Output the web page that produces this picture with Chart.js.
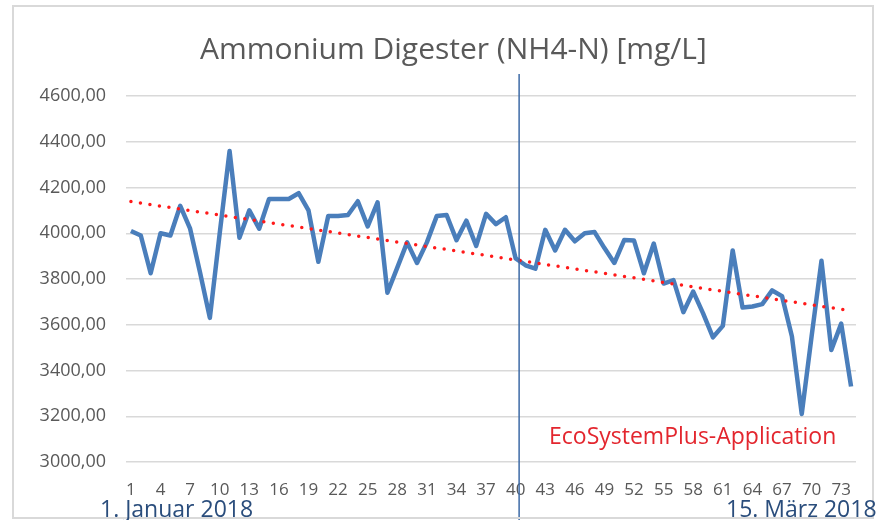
<!DOCTYPE html>
<html>
<head>
<meta charset="utf-8">
<script src="https://cdn.jsdelivr.net/npm/chart.js@4/dist/chart.umd.min.js"></script>
<style>
    html, body { margin: 0; padding: 0; background: #fff; }
    #wrap { position: relative; width: 886px; height: 520px; overflow: hidden; }
    #frame { position: absolute; left: 12px; top: 5px; width: 858px; height: 510px; border: 2px solid #d9d9d9; pointer-events: none; }
    .note { position: absolute; font-family: "Open Sans", sans-serif; white-space: nowrap; line-height: 30px; }
    #chartTitle { left: 200px; top: 30px; width: 504px; text-align: center; font-size: 30px; line-height: 36px; color: #595959; }
    #startDate { left: 100px; top: 493px; font-size: 23px; color: #2a4d7c; }
    #endDate { left: 726px; top: 493px; font-size: 23px; color: #2a4d7c; }
    #appLabel { left: 549px; top: 420px; font-size: 23px; color: #e3262e; }
</style>
</head>
<body>
<div id="wrap">
    <canvas id="ammoniumChart" width="886" height="520"></canvas>
    <div id="frame"></div>
    <div class="note" id="chartTitle">Ammonium Digester (NH4-N) [mg/L]</div>
    <div class="note" id="startDate">1. Januar 2018</div>
    <div class="note" id="endDate">15. März 2018</div>
    <div class="note" id="appLabel">EcoSystemPlus-Application</div>
</div>
<script>
// Tage 1..74 (1. Januar bis 15. März 2018)
const days = Array.from({ length: 74 }, (_, i) => String(i + 1));

// NH4-N im Faulbehälter [mg/L]
const ammonium = [
    4010, 3990, 3825, 4000, 3990, 4120, 4020, 3830, 3630, 4000,
    4360, 3980, 4100, 4020, 4150, 4150, 4150, 4175, 4100, 3875,
    4075, 4075, 4080, 4140, 4030, 4135, 3740, 3850, 3960, 3870,
    3960, 4075, 4080, 3970, 4055, 3945, 4085, 4040, 4070, 3890,
    3860, 3845, 4015, 3925, 4015, 3965, 4000, 4005, 3935, 3870,
    3970, 3968, 3825, 3955, 3780, 3795, 3655, 3745, 3650, 3545,
    3595, 3925, 3675, 3680, 3690, 3750, 3725, 3550, 3210, 3550,
    3880, 3490, 3605, 3330
];

// Beginn der Anwendung (Position auf der Tagesachse, 0-basiert)
const applicationIndex = 39.35;

const yMin = 3000;
const yMax = 4600;
const yStep = 200;

// lineare Trendlinie (kleinste Quadrate) wie in Excel
function linearTrend(values) {
    const n = values.length;
    let sx = 0, sy = 0, sxy = 0, sxx = 0;
    values.forEach((v, i) => {
        sx += i; sy += v; sxy += i * v; sxx += i * i;
    });
    const slope = (n * sxy - sx * sy) / (n * sxx - sx * sx);
    const icpt = (sy - slope * sx) / n;
    return values.map((_, i) => icpt + slope * i);
}

const trend = linearTrend(ammonium);

// senkrechte Linie beim Start der Anwendung
const appLinePlugin = {
    id: 'appLine',
    afterDatasetsDraw(chart) {
        const ctx = chart.ctx;
        const x = chart.scales.x.getPixelForValue(applicationIndex);
        ctx.save();
        ctx.strokeStyle = '#3d6aa6';
        ctx.lineWidth = 1.5;
        ctx.beginPath();
        ctx.moveTo(x, 74);
        ctx.lineTo(x, 520);
        ctx.stroke();
        ctx.restore();
    }
};

const ctx = document.getElementById('ammoniumChart').getContext('2d');

new Chart(ctx, {
    type: 'line',
    data: {
        labels: days,
        datasets: [{
            label: 'Trend',
            data: trend,
            borderColor: '#ff1a1a',
            borderWidth: 3.5,
            borderDash: [0, 9.6],
            borderCapStyle: 'round',
            pointRadius: 0,
            order: 0,
        }, {
            label: 'NH4-N',
            data: ammonium,
            borderColor: '#4a7ebb',
            borderWidth: 4.5,
            borderJoinStyle: 'round',
            pointRadius: 0,
            tension: 0,
            order: 1,
        }],
    },
    options: {
        responsive: false,
        animation: false,
        layout: { padding: { left: 0, right: 30, top: 96, bottom: 0 } },
        plugins: {
            legend: { display: false },
            tooltip: { enabled: false },
            title: { display: false },
        },
        scales: {
            x: {
                offset: true,
                grid: { display: false },
                border: { display: false },
                ticks: {
                    autoSkip: false,
                    maxRotation: 0,
                    padding: 10,
                    color: '#595959',
                    font: { family: 'Open Sans', size: 17 },
                    callback: function (value, index) {
                        return index % 3 === 0 ? this.getLabelForValue(index) : '';
                    },
                },
                afterFit: scale => { scale.height = 58; },
            },
            y: {
                min: yMin,
                max: yMax,
                grid: { color: '#d9d9d9', lineWidth: 1.5, drawTicks: false },
                border: { display: false },
                ticks: {
                    stepSize: yStep,
                    padding: 20,
                    color: '#595959',
                    font: { family: 'Open Sans', size: 18 },
                    callback: value => value.toFixed(2).replace('.', ','),
                },
                afterFit: scale => { scale.width = 126; },
            },
        },
    },
    plugins: [appLinePlugin],
});
</script>
</body>
</html>
